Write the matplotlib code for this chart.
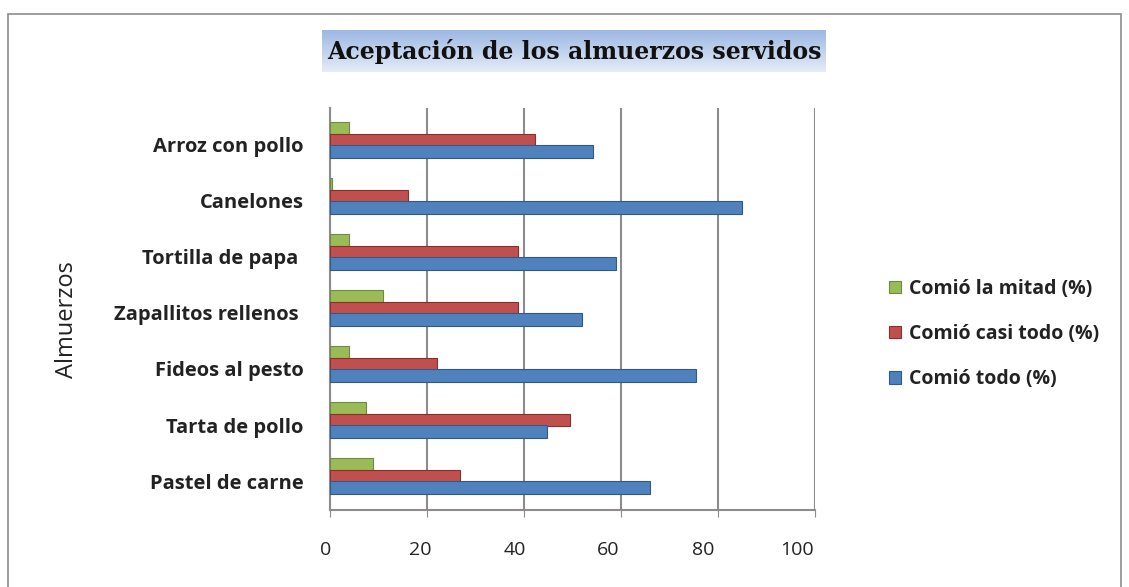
import numpy as np
import matplotlib
matplotlib.use("Agg")
import matplotlib.pyplot as plt
import matplotlib.transforms as mtransforms
from matplotlib.patches import Rectangle

plt.rcParams["font.family"] = ["Open Sans", "DejaVu Sans"]

# datos (de abajo hacia arriba)
almuerzos = ["Pastel de carne", "Tarta de pollo", "Fideos al pesto", "Zapallitos rellenos ",
             "Tortilla de papa ", "Canelones", "Arroz con pollo"]
comio_todo = [66, 44.7, 75.5, 52, 59, 85, 54.3]
comio_casi_todo = [26.8, 49.5, 22, 38.8, 38.8, 16, 42.3]
comio_mitad = [8.8, 7.5, 4, 11, 4, 0.5, 4]
ticks_x = [0, 20, 40, 60, 80, 100]

colores = {"mitad": "#9BBB59", "casi": "#C0504D", "todo": "#4F81BD"}
bordes = {"mitad": "#6E8A3A", "casi": "#8C2F2C", "todo": "#2F5A8E"}

fig = plt.figure(figsize=(11.29, 5.87), dpi=100)

# marco exterior del gráfico
fig.patches.append(Rectangle((8 / 1129, -0.05), (1121 - 8) / 1129, 1.05 - 14 / 587,
                             transform=fig.transFigure, fill=False,
                             edgecolor="#8C8C8C", linewidth=1.2))

ax = fig.add_axes([330 / 1129, 1 - 510 / 587, (815 - 330) / 1129, (510 - 108) / 587])

y = np.arange(len(almuerzos))
h = 0.23
ax.barh(y + 0.205, comio_mitad, height=h, color=colores["mitad"], edgecolor=bordes["mitad"],
        linewidth=0.8, label="Comió la mitad (%)", zorder=3)
ax.barh(y, comio_casi_todo, height=h, color=colores["casi"], edgecolor=bordes["casi"],
        linewidth=0.8, label="Comió casi todo (%)", zorder=3)
ax.barh(y - 0.205, comio_todo, height=h, color=colores["todo"], edgecolor=bordes["todo"],
        linewidth=0.8, label="Comió todo (%)", zorder=3)

ax.set_xlim(0, 100)
ax.set_ylim(-0.607, 6.571)
ax.set_xticks(ticks_x)
ax.set_yticks(y)
ax.set_yticklabels(almuerzos, fontsize=14.5, fontweight="bold", color="#222222")
ax.tick_params(axis="y", length=0, pad=19)
ax.tick_params(axis="x", labelsize=14, length=5, color="#8C8C8C", pad=17, labelcolor="#222222")

# etiquetas un poco desplazadas, como en el gráfico 3D original
for lab in ax.get_yticklabels():
    lab.set_transform(lab.get_transform() + mtransforms.ScaledTranslation(0, -5 / 100, fig.dpi_scale_trans))
for lab, v in zip(ax.get_xticklabels(), ticks_x):
    dx = -(4 + 0.14 * v) / 100
    lab.set_transform(lab.get_transform() + mtransforms.ScaledTranslation(dx, 0, fig.dpi_scale_trans))

ax.grid(True, axis="x", color="#8C8C8C", linewidth=1.5, zorder=0)
for s in ["top", "right"]:
    ax.spines[s].set_visible(False)
ax.spines["left"].set_color("#8C8C8C")
ax.spines["left"].set_linewidth(1.5)
ax.spines["bottom"].set_color("#8C8C8C")
ax.spines["bottom"].set_linewidth(1.5)

fig.text(67 / 1129, 1 - 320 / 587, "Almuerzos", rotation=90, fontsize=17,
         ha="center", va="center", color="#222222")

# título con fondo degradado
tax = fig.add_axes([322 / 1129, 1 - 72 / 587, (826 - 322) / 1129, 42 / 587])
grad = np.linspace(0, 1, 64).reshape(-1, 1)
cmap = matplotlib.colors.LinearSegmentedColormap.from_list("g", ["#9DB8E3", "#E4ECF7"])
tax.imshow(grad, aspect="auto", cmap=cmap, extent=[0, 1, 0, 1], origin="upper")
tax.set_axis_off()
tax.text(0.5, 0.5, "Aceptación de los almuerzos servidos", family="DejaVu Serif",
         fontweight="bold", fontsize=17, ha="center", va="center", color="#111111")

handles, labels = ax.get_legend_handles_labels()
leg = fig.legend(handles, labels, loc="center left", bbox_to_anchor=(872 / 1129, 1 - 334 / 587),
                 frameon=False, fontsize=14, handlelength=0.6, handleheight=0.6,
                 handletextpad=0.4, labelspacing=1.3)
for t in leg.get_texts():
    t.set_fontweight("bold")
    t.set_color("#222222")

fig.savefig("out.png", dpi=100, facecolor="white")
